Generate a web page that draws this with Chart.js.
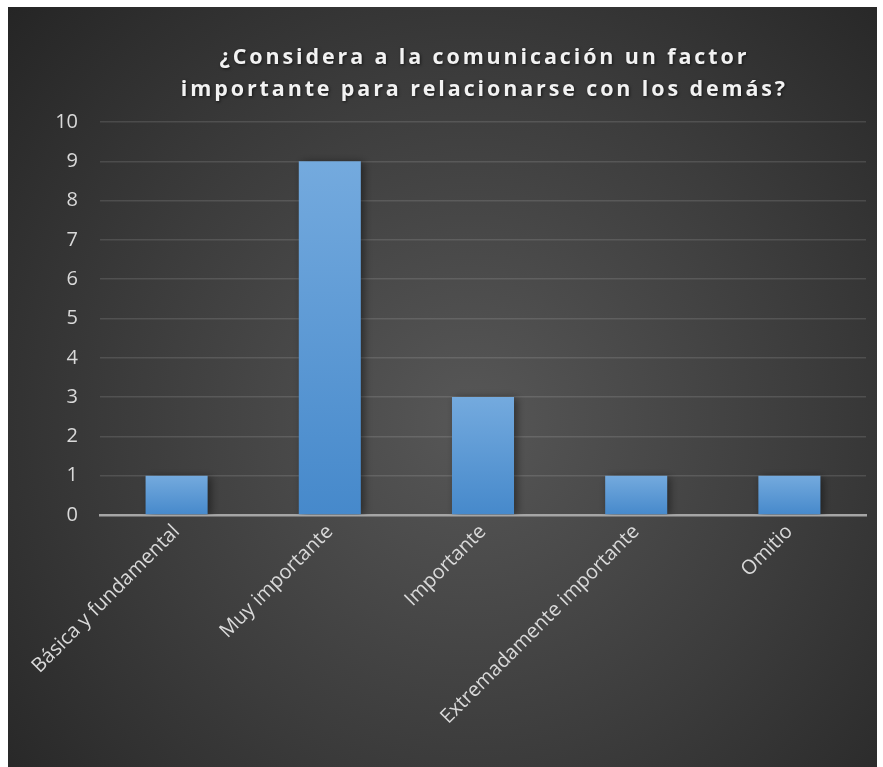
<!DOCTYPE html>
<html>
<head>
<meta charset="utf-8">
<script src="https://cdn.jsdelivr.net/npm/chart.js@4.4.1/dist/chart.umd.min.js"></script>
<style>
  html, body { margin: 0; padding: 0; background: #ffffff; }
  #wrap { position: relative; width: 883px; height: 767px; }
</style>
</head>
<body>
<div id="wrap"><canvas id="c" width="883" height="767"></canvas></div>
<script>
const categories = ["Básica y fundamental", "Muy importante", "Importante", "Extremadamente importante", "Omitio"];
const values = [1, 9, 3, 1, 1];
const yTicks = [0, 1, 2, 3, 4, 5, 6, 7, 8, 9, 10];
const titleLines = ["¿Considera a la comunicación un factor", "importante para relacionarse con los demás?"];

const FONT = "'Open Sans', Lato, sans-serif";
const TITLE_SIZE = 21.5;

const bgPlugin = {
  id: 'bg',
  beforeDraw(chart) {
    const c = chart.ctx;
    c.save();
    c.fillStyle = '#ffffff';
    c.fillRect(0, 0, chart.width, chart.height);
    const g = c.createRadialGradient(470, 420, 0, 470, 420, 620);
    g.addColorStop(0, '#575757');
    g.addColorStop(0.55, '#3c3c3c');
    g.addColorStop(1, '#252525');
    c.fillStyle = g;
    c.fillRect(8, 7, 869, 760);
    c.restore();
  }
};

const titlePatch = {
  id: 'titlePatch',
  beforeDraw(chart) {
    const tb = chart.titleBlock;
    if (tb && !tb._patched) {
      const orig = tb.draw.bind(tb);
      tb.draw = function () {
        const c = this.ctx;
        c.save();
        c.font = "bold " + TITLE_SIZE + "px " + FONT;
        const w = c.measureText(titleLines[1]).width;
        const sp = Math.max(0, (607 - w) / titleLines[1].length);
        c.letterSpacing = sp.toFixed(2) + 'px';
        c.translate(50 + sp / 2, 0);
        c.shadowColor = 'rgba(0,0,0,0.6)';
        c.shadowBlur = 3;
        c.shadowOffsetX = 1;
        c.shadowOffsetY = 1;
        orig();
        c.restore();
      };
      tb._patched = true;
    }
  }
};

const shadowPlugin = {
  id: 'barShadow',
  beforeDatasetDraw(chart) {
    const c = chart.ctx;
    c.save();
    c.shadowColor = 'rgba(0,0,0,0.45)';
    c.shadowBlur = 8;
    c.shadowOffsetX = 3;
    c.shadowOffsetY = 1;
  },
  afterDatasetDraw(chart) {
    chart.ctx.restore();
  }
};

function barGradient(ctx) {
  const chart = ctx.chart;
  if (!chart.chartArea || !chart.scales.y) return '#5b9bd5';
  const v = values[ctx.dataIndex];
  const top = chart.scales.y.getPixelForValue(v);
  const bottom = chart.scales.y.getPixelForValue(0);
  if (!isFinite(top) || !isFinite(bottom) || top === bottom) return '#5b9bd5';
  const g = chart.ctx.createLinearGradient(0, top, 0, bottom);
  g.addColorStop(0, '#74aade');
  g.addColorStop(1, '#4689cb');
  return g;
}

new Chart(document.getElementById('c'), {
  type: 'bar',
  data: {
    labels: categories,
    datasets: [{
      data: values,
      backgroundColor: barGradient,
      borderWidth: 0,
      barPercentage: 0.405,
      categoryPercentage: 1.0
    }]
  },
  plugins: [bgPlugin, titlePatch, shadowPlugin],
  options: {
    responsive: false,
    animation: false,
    devicePixelRatio: 1,
    layout: { padding: { left: 0, right: 17, top: 0, bottom: 0 } },
    plugins: {
      legend: { display: false },
      tooltip: { enabled: false },
      title: {
        display: true,
        text: titleLines,
        color: '#f2f2f2',
        font: { family: FONT, size: TITLE_SIZE, weight: 'bold', lineHeight: 32 / TITLE_SIZE },
        padding: { top: 42, bottom: 16 }
      }
    },
    scales: {
      y: {
        min: 0,
        max: 10,
        afterBuildTicks(scale) { scale.ticks = yTicks.map(v => ({ value: v })); },
        afterFit(scale) { scale.width = 100; },
        grid: { color: 'rgba(255,255,255,0.12)', lineWidth: 1.5, drawTicks: false },
        border: { display: false },
        ticks: { color: '#d9d9d9', font: { family: FONT, size: 20 }, padding: 22 }
      },
      x: {
        z: 1,
        afterFit(scale) { scale.height = 252; },
        grid: { display: false, drawTicks: false },
        border: { display: true, color: '#a6a6a6', width: 2.5 },
        ticks: {
          color: '#d9d9d9',
          font: { family: FONT, size: 20 },
          minRotation: 45,
          maxRotation: 45,
          padding: 5,
          autoSkip: false
        }
      }
    }
  }
});
</script>
</body>
</html>
